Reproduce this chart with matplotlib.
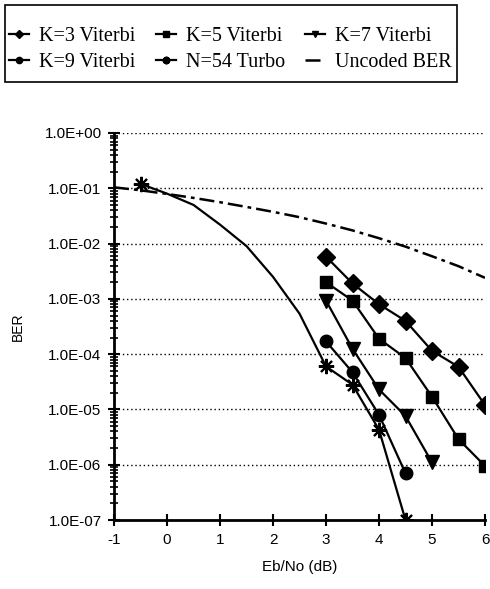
import numpy as np
import matplotlib
matplotlib.use('Agg')
import matplotlib.pyplot as plt
from matplotlib.patches import Rectangle
from matplotlib.ticker import FuncFormatter, LogLocator, FixedLocator

plt.rcParams['axes.unicode_minus'] = False

# Eb/No (dB) and BER values
ebno_k3 = [3, 3.5, 4, 4.5, 5, 5.5, 6]
ber_k3 = [5.8e-3, 1.9e-3, 8.0e-4, 4.0e-4, 1.15e-4, 5.9e-5, 1.2e-5]

ebno_k5 = [3, 3.5, 4, 4.5, 5, 5.5, 6]
ber_k5 = [2.0e-3, 9.3e-4, 1.9e-4, 8.5e-5, 1.7e-5, 2.9e-6, 9.5e-7]

ebno_k7 = [3, 3.5, 4, 4.5, 5]
ber_k7 = [9.3e-4, 1.25e-4, 2.3e-5, 7.6e-6, 1.1e-6]

ebno_k9 = [3, 3.5, 4, 4.5]
ber_k9 = [1.7e-4, 4.7e-5, 8.0e-6, 7.0e-7]

ebno_turbo = [-0.5, 0, 0.5, 1, 1.5, 2, 2.5, 3, 3.5, 4, 4.5]
ber_turbo = [1.2e-1, 8.0e-2, 5.0e-2, 2.2e-2, 9.0e-3, 2.5e-3, 5.4e-4, 6.0e-5, 2.8e-5, 4.3e-6, 1.0e-7]
turbo_marked = [0, 7, 8, 9, 10]

ebno_unc = [-1, -0.5, 0, 0.5, 1, 1.5, 2, 2.5, 3, 3.5, 4, 4.5, 5, 5.5, 6]
ber_unc = [1.04e-1, 9.2e-2, 7.9e-2, 6.7e-2, 5.6e-2, 4.6e-2, 3.75e-2, 3.0e-2,
           2.3e-2, 1.73e-2, 1.25e-2, 8.8e-3, 5.9e-3, 3.9e-3, 2.4e-3]

W, H = 490, 589
fig = plt.figure(figsize=(W / 100, H / 100), dpi=100)
ax = fig.add_axes([0.2327, 0.1171, 0.7571, 0.6571])

lw = 1.6
h_k3, = ax.plot(ebno_k3, ber_k3, color='black', lw=lw, marker='D', ms=9)
h_k5, = ax.plot(ebno_k5, ber_k5, color='black', lw=lw, marker='s', ms=8)
h_k7, = ax.plot(ebno_k7, ber_k7, color='black', lw=lw, marker='v', ms=10)
h_k9, = ax.plot(ebno_k9, ber_k9, color='black', lw=lw, marker='o', ms=9)
h_tb, = ax.plot(ebno_turbo, ber_turbo, color='black', lw=lw, marker=(8, 2, 0), ms=11,
                markevery=turbo_marked, mew=1.5)
h_un, = ax.plot(ebno_unc, ber_unc, color='black', lw=1.8, linestyle=(0, (6, 2, 1.5, 2)))

ax.set_yscale('log')
ax.set_xlim(-1, 6)
ax.set_ylim(1e-7, 1)
ax.set_xticks(range(-1, 7))
ax.yaxis.set_major_locator(FixedLocator([10.0 ** k for k in range(-7, 1)]))
ax.yaxis.set_minor_locator(LogLocator(base=10, subs=np.arange(2, 10), numticks=20))
ax.yaxis.set_major_formatter(FuncFormatter(lambda v, p: '1.0E%+03d' % int(round(np.log10(v)))))
ax.yaxis.set_minor_formatter(FuncFormatter(lambda v, p: ''))

for s in ['top', 'right']:
    ax.spines[s].set_visible(False)
for s in ['left', 'bottom']:
    ax.spines[s].set_linewidth(2)

ax.grid(axis='y', which='major', color='black', linestyle=(0, (1, 2)), lw=1)
ax.tick_params(axis='both', which='major', direction='inout', length=8, width=1.5,
               labelsize=11, pad=5)
ax.tick_params(axis='y', which='minor', direction='inout', length=6, width=1.2)
for lbl in ax.get_xticklabels() + ax.get_yticklabels():
    lbl.set_fontfamily('Liberation Sans')

ax.set_xlabel('Eb/No (dB)', fontsize=11, family='Liberation Sans', labelpad=10)
ax.set_ylabel('BER', fontsize=10, family='Liberation Sans', labelpad=14)

# legend box drawn by hand so the padding can match the original
fig.patches.append(Rectangle((5 / W, 1 - 82 / H), 452 / W, 77 / H, transform=fig.transFigure,
                             fill=False, edgecolor='black', lw=1.2))

# matplotlib fills legend columns first, so order handles to read row by row
handles = [h_k3, h_k9, h_k5, h_tb, h_k7, h_un]
labels = ['K=3 Viterbi', 'K=9 Viterbi', 'K=5 Viterbi', 'N=54 Turbo', 'K=7 Viterbi', 'Uncoded BER']
leg = fig.legend(handles, labels, ncol=3, loc='upper left',
                 bbox_to_anchor=(9 / W, 1 - 27 / H),
                 prop={'family': 'Liberation Serif', 'size': 14.5},
                 markerscale=0.5, handlelength=1.0, handletextpad=0.5,
                 columnspacing=1.0, labelspacing=0.35, borderpad=0,
                 borderaxespad=0, frameon=False)

fig.savefig('out.png', dpi=100)
